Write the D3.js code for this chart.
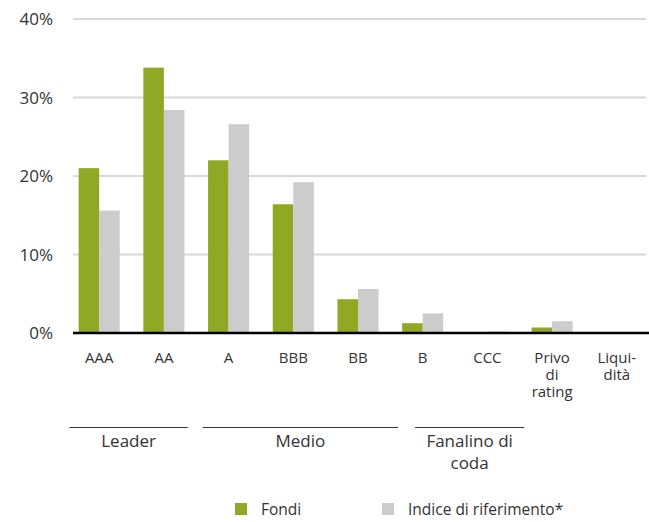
<!DOCTYPE html>
<html>
<head>
<meta charset="utf-8">
<script src="https://cdn.jsdelivr.net/npm/d3@7"></script>
<style>
body { margin:0; background:#fff; }
text { font-family: "Open Sans", "DejaVu Sans", sans-serif; fill:#333; }
</style>
</head>
<body>
<div class="canva"></div>
<script>
// dati
const categorie = ['AAA','AA','A','BBB','BB','B','CCC','Privo di rating','Liqui- dità'];
const fondi = [21.0, 33.8, 22.0, 16.4, 4.3, 1.25, 0, 0.7, 0];
const indice = [15.6, 28.4, 26.6, 19.2, 5.6, 2.5, 0.2, 1.5, 0];
const yTicks = [0, 10, 20, 30, 40];
const gruppi = [
  {nome:['Leader'], da:0, a:1},
  {nome:['Medio'], da:2, a:4},
  {nome:['Fanalino di','coda'], da:5, a:6}
];
const serie = ['Fondi','Indice di riferimento*'];
const colori = ['#91a824','#cccccc'];

// sporgenza delle linee dei gruppi (in frazioni di step)
const sporgenza = [[-0.14, 0.05], [-0.08, 0.3], [0.2, 0.25]];

const svg = d3.select('.canva').append('svg')
  .attr('width',649)
  .attr('height',522);

const x = d3.scaleBand().domain(categorie).range([67,649]).paddingInner(0.365).paddingOuter(0.18);
const x1 = d3.scaleBand().domain([0,1]).range([0,x.bandwidth()]);
const y = d3.scaleLinear().domain([0,40]).range([333,19]);

// griglia
svg.append('g')
  .selectAll('line')
  .data(yTicks.slice(1))
  .enter()
  .append('line')
  .attr('x1',73).attr('x2',646)
  .attr('y1',d=>y(d)).attr('y2',d=>y(d))
  .attr('stroke','#d9d9d9')
  .attr('stroke-width',2);

// etichette asse y
svg.append('g')
  .selectAll('text')
  .data(yTicks)
  .enter()
  .append('text')
  .attr('x',53)
  .attr('y',d=>y(d)+6)
  .attr('text-anchor','end')
  .attr('font-size',17)
  .text(d=>d+'%');

// barre
const g = svg.append('g')
  .selectAll('g')
  .data(categorie)
  .enter()
  .append('g')
  .attr('transform',d=>'translate('+x(d)+',0)');

[fondi, indice].forEach(function(vals,s){
  g.append('rect')
    .attr('x',x1(s))
    .attr('width',x1.bandwidth())
    .attr('y',(d,i)=>y(vals[i]))
    .attr('height',(d,i)=>y(0)-y(vals[i]))
    .attr('fill',colori[s]);
});

// asse x
svg.append('line')
  .attr('x1',73).attr('x2',649)
  .attr('y1',y(0)).attr('y2',y(0))
  .attr('stroke','#000')
  .attr('stroke-width',2.5);

// etichette categorie
g.append('text')
  .attr('text-anchor','middle')
  .attr('font-size',15)
  .attr('x',x.bandwidth()/2)
  .each(function(d){
    const t = d3.select(this);
    const parts = d==='Liqui- dità' ? ['Liqui-','dità'] : d.split(' ');
    parts.forEach(function(p,k){
      t.append('tspan').attr('x',x.bandwidth()/2).attr('y',363+k*17).text(p);
    });
  });

// gruppi
const step = x.step();
const gg = svg.append('g')
  .selectAll('g')
  .data(gruppi)
  .enter()
  .append('g');

const gx1 = (d,i)=>x(categorie[d.da]) + sporgenza[i][0]*step;
const gx2 = (d,i)=>x(categorie[d.a]) + x.bandwidth() + sporgenza[i][1]*step;

gg.append('line')
  .attr('x1',gx1)
  .attr('x2',gx2)
  .attr('y1',427.5).attr('y2',427.5)
  .attr('stroke','#333')
  .attr('stroke-width',1.2);

gg.append('text')
  .attr('text-anchor','middle')
  .attr('font-size',17)
  .each(function(d,i){
    const cx = (gx1(d,i) + gx2(d,i))/2;
    const t = d3.select(this);
    d.nome.forEach(function(p,k){
      t.append('tspan').attr('x',cx).attr('y',447+k*22).text(p);
    });
  });

// legenda
const legX = [235, 382];
const leg = svg.append('g')
  .selectAll('g')
  .data(serie)
  .enter()
  .append('g')
  .attr('transform',(d,i)=>'translate('+legX[i]+',503)');

leg.append('rect')
  .attr('width',12).attr('height',12)
  .attr('fill',(d,i)=>colori[i]);

leg.append('text')
  .attr('x',26).attr('y',12)
  .attr('font-size',15.5)
  .text(d=>d);
</script>
</body>
</html>
